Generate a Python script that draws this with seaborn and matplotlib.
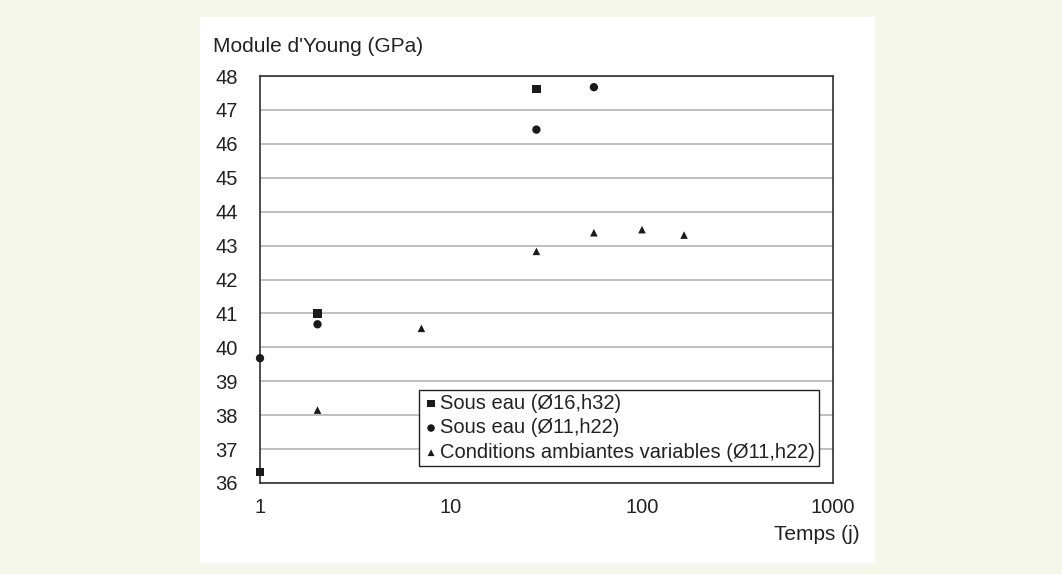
import matplotlib as mpl
import matplotlib.pyplot as plt
import pandas as pd
import seaborn as sns
from matplotlib.patches import Rectangle
from matplotlib.ticker import FixedLocator, FixedFormatter, NullLocator

mpl.use('Agg')

# Data
SERIES = ["Sous eau (Ø16,h32)", "Sous eau (Ø11,h22)",
          "Conditions ambiantes variables (Ø11,h22)"]
sq_t = [1, 2, 28]
sq_e = [36.32, 41.0, 47.62]
ci_t = [1, 2, 28, 56]
ci_e = [39.68, 40.68, 46.42, 47.67]
tr_t = [2, 7, 28, 56, 100, 166]
tr_e = [38.15, 40.56, 42.83, 43.38, 43.47, 43.31]
x_ticks = [1, 10, 100, 1000]
y_ticks = list(range(36, 49))

BG = "#f4f7ea"
INK = "#1a1a1a"

sns.set_theme(style="white")
plt.rcParams["font.family"] = ["Liberation Sans", "DejaVu Sans"]

df = pd.concat([
    pd.DataFrame({"t": sq_t, "E": sq_e, "serie": SERIES[0]}),
    pd.DataFrame({"t": ci_t, "E": ci_e, "serie": SERIES[1]}),
    pd.DataFrame({"t": tr_t, "E": tr_e, "serie": SERIES[2]}),
])

fig = plt.figure(figsize=(10.62, 5.74), dpi=100, facecolor=BG)
# white panel behind the chart
fig.patches.append(Rectangle((200 / 1062, 1 - 563 / 574), 675 / 1062, 546 / 574,
                             transform=fig.transFigure, facecolor="white",
                             edgecolor="none", zorder=-5))
ax = fig.add_axes([260 / 1062, 1 - 483 / 574, 573 / 1062, 407 / 574])
ax.set_zorder(2)
ax.set_facecolor("white")

markers = {SERIES[0]: "s", SERIES[1]: "o", SERIES[2]: "^"}
sizes = {SERIES[0]: 36, SERIES[1]: 36, SERIES[2]: 30}
for name in SERIES:
    sub = df[df["serie"] == name]
    sns.scatterplot(data=sub, x="t", y="E", marker=markers[name], color=INK,
                    s=sizes[name], edgecolor="none", label=name, ax=ax,
                    zorder=3, clip_on=False)

ax.set_xscale("log")
ax.set_xlim(1, 1000)
ax.set_ylim(36, 48)
ax.xaxis.set_major_locator(FixedLocator(x_ticks))
ax.xaxis.set_major_formatter(FixedFormatter([str(v) for v in x_ticks]))
ax.xaxis.set_minor_locator(NullLocator())
ax.set_yticks(y_ticks)
ax.set_yticklabels([str(v) for v in y_ticks])
ax.yaxis.grid(True, color="#b4b4b4", linewidth=1.2)
ax.xaxis.grid(False)
for sp in ax.spines.values():
    sp.set_color("#303030")
    sp.set_linewidth(1.2)
ax.tick_params(axis="both", which="major", direction="out", length=5,
               width=1.2, color="#303030", labelsize=14.5, labelcolor="#222222")
ax.tick_params(axis="y", pad=11)
ax.tick_params(axis="x", pad=6)
ax.set_xlabel("")
ax.set_ylabel("")

fig.text(213 / 1062, 1 - 46 / 574, "Module d'Young (GPa)", ha="left",
         va="center", fontsize=15, color="#222222")
fig.text(860 / 1062, 1 - 535 / 574, "Temps (j)", ha="right", va="center",
         fontsize=15, color="#222222")

leg = ax.legend(loc="lower right", bbox_to_anchor=(819 / 1062, 1 - 466 / 574),
                bbox_transform=fig.transFigure, frameon=True, fancybox=False,
                edgecolor="#222222", facecolor="white", framealpha=1,
                fontsize=14.5, handletextpad=0.05, handlelength=0.8,
                borderpad=0.2, labelspacing=0.28, borderaxespad=0,
                markerscale=0.9)
leg.get_frame().set_linewidth(1.0)
for txt in leg.get_texts():
    txt.set_color("#222222")

fig.savefig("out.png", dpi=100, facecolor=BG)
